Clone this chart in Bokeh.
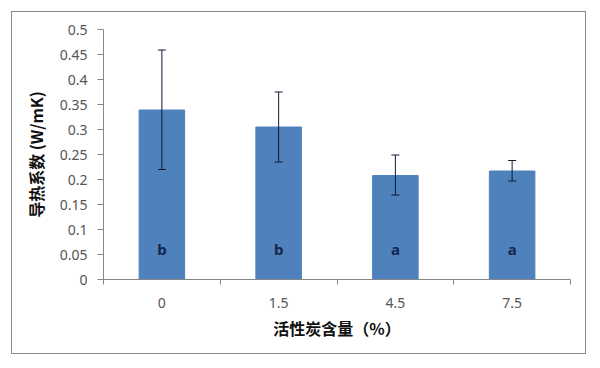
from bokeh.plotting import figure
from bokeh.models import Range1d, FixedTicker, ColumnDataSource, Whisker, TeeHead
from bokeh.embed import file_html
from bokeh.resources import INLINE
from bokeh.core.properties import value

categories = ["0", "1.5", "4.5", "7.5"]
conductivity = [0.339, 0.305, 0.208, 0.217]
err_upper = [0.459, 0.375, 0.249, 0.238]
err_lower = [0.220, 0.235, 0.169, 0.197]
letters = ["b", "b", "a", "a"]
y_ticks = [0, 0.05, 0.1, 0.15, 0.2, 0.25, 0.3, 0.35, 0.4, 0.45, 0.5]
y_tick_labels = ["0", "0.05", "0.1", "0.15", "0.2", "0.25", "0.3", "0.35", "0.4", "0.45", "0.5"]

LETTER_Y = 0.062
xs = [i + 0.5 for i in range(len(categories))]

src = ColumnDataSource(dict(
    x=xs, top=conductivity, upper=err_upper, lower=err_lower,
    letter=letters, ly=[LETTER_Y] * len(categories),
))

p = figure(width=575, height=343, output_backend="svg", toolbar_location=None,
           x_range=Range1d(0, len(categories)), y_range=Range1d(0, 0.5),
           min_border_left=91, min_border_right=17, min_border_top=17, min_border_bottom=76)
p.margin = (11, 0, 0, 11)
p.styles = {"border": "1px solid #8a8a8a"}
p.outline_line_color = None
p.grid.visible = False
p.background_fill_color = "white"
p.border_fill_color = "white"

p.vbar(x="x", top="top", width=0.39, bottom=0, source=src,
       fill_color="#4F81BD", line_color="#4F81BD")

err_color = "#0d1b33"
w = Whisker(base="x", upper="upper", lower="lower", source=src,
            line_color=err_color, line_width=1,
            upper_head=TeeHead(size=8, line_color=err_color, line_width=1),
            lower_head=TeeHead(size=8, line_color=err_color, line_width=1))
w.level = "overlay"
p.add_layout(w)

p.text(x="x", y="ly", text="letter", source=src, text_align="center",
       text_baseline="alphabetic", text_font=value("Noto Sans"), text_font_size="15px",
       text_font_style="bold", text_color="#14264a")

axis_color = "#868686"
label_color = "#555555"

xa = p.xaxis[0]
xa.ticker = FixedTicker(ticks=xs, minor_ticks=list(range(len(categories) + 1)))
xa.major_label_overrides = {x: c for x, c in zip(xs, categories)}
xa.major_tick_out = 0
xa.major_tick_in = 0
xa.minor_tick_out = 5
xa.minor_tick_in = 0
xa.minor_tick_line_color = axis_color
xa.axis_line_color = axis_color
xa.major_label_standoff = 13
xa.major_label_text_font = "Noto Sans"
xa.major_label_text_font_size = "14px"
xa.major_label_text_color = label_color
xa.axis_label = "活性炭含量（%）"
xa.axis_label_text_font = "Noto Sans CJK SC"
xa.axis_label_text_font_style = "bold"
xa.axis_label_text_font_size = "16px"
xa.axis_label_text_color = "#111111"
xa.axis_label_standoff = 5

ya = p.yaxis[0]
ya.ticker = FixedTicker(ticks=y_ticks, minor_ticks=[])
ya.major_label_overrides = {t: l for t, l in zip(y_ticks, y_tick_labels)}
ya.major_tick_out = 6
ya.major_tick_in = 0
ya.major_tick_line_color = axis_color
ya.axis_line_color = axis_color
ya.major_label_standoff = 10
ya.major_label_text_font = "Noto Sans"
ya.major_label_text_font_size = "14px"
ya.major_label_text_color = label_color
ya.axis_label = "导热系数 (W/mK)"
ya.axis_label_text_font = "Noto Sans CJK SC"
ya.axis_label_text_font_style = "bold"
ya.axis_label_text_font_size = "16px"
ya.axis_label_text_color = "#111111"
ya.axis_label_standoff = 9

open("out.html", "w").write(file_html(p, INLINE))
